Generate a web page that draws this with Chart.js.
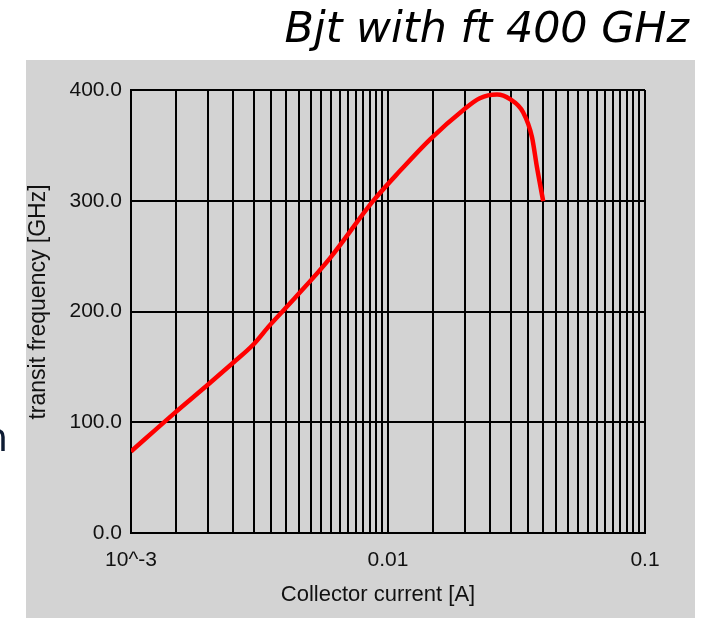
<!DOCTYPE html>
<html>
<head>
<meta charset="utf-8">
<script src="https://cdn.jsdelivr.net/npm/chart.js@4.4.1/dist/chart.umd.min.js"></script>
<style>
  html, body { margin: 0; padding: 0; background: #ffffff; }
  #wrap { width: 711px; height: 618px; position: relative; }
</style>
</head>
<body>
<div id="wrap"><canvas id="ft"></canvas></div>
<script>
// collector current [A] vs transit frequency [GHz]
var current = [0.00100, 0.00148, 0.00198, 0.00249, 0.00298, 0.00347, 0.00427, 0.00595, 0.00874,
               0.01114, 0.01458, 0.01959, 0.02277, 0.02656, 0.02984, 0.03354, 0.03634, 0.03798, 0.04017];
var ft = [73.6, 108.5, 133.4, 153.5, 169.7, 187.7, 210.3, 248.2, 299.6,
          327.0, 355.5, 381.8, 392.6, 395.9, 391.7, 379.9, 357.4, 330.3, 299.6];

var xLabelValues = [0.001, 0.01, 0.1];
var xLabelText = ['10^-3', '0.01', '0.1'];
var xMinorSteps = [1, 1.5, 2, 2.5, 3, 3.5, 4, 4.5, 5, 5.5, 6, 6.5, 7, 7.5, 8, 8.5, 9, 9.5];
var yTicks = [0, 100, 200, 300, 400];

var chartTitle = 'Bjt with ft 400 GHz';
var xTitle = 'Collector current [A]';
var yTitle = 'transit frequency [GHz]';

var tickFont = { family: '"Liberation Sans", Arial, sans-serif', size: 21 };
var axisTitleFont = '22px "Liberation Sans", Arial, sans-serif';
var yTitleFont = '23px "Liberation Sans", Arial, sans-serif';

// gridline positions: every half step inside each decade
var xGrid = [];
[0.001, 0.01].forEach(function(d) {
  xMinorSteps.forEach(function(s) { xGrid.push(d * s); });
});
xGrid.push(0.1);

var backdrop = {
  id: 'backdrop',
  beforeDraw: function(chart) {
    var ctx = chart.ctx;
    ctx.save();
    ctx.fillStyle = '#ffffff';
    ctx.fillRect(0, 0, chart.width, chart.height);
    ctx.fillStyle = '#d3d3d3';
    ctx.fillRect(26, 60, 669, 558);
    ctx.restore();
  },
  afterDraw: function(chart) {
    var ctx = chart.ctx;
    ctx.save();

    // heading, sized to span 405px
    ctx.fillStyle = '#000000';
    ctx.font = 'oblique 40px "DejaVu Sans", sans-serif';
    var w = ctx.measureText(chartTitle).width;
    var size = 40 * 405 / w;
    ctx.font = 'oblique ' + size.toFixed(1) + 'px "DejaVu Sans", sans-serif';
    ctx.textAlign = 'right';
    ctx.textBaseline = 'alphabetic';
    ctx.fillText(chartTitle, 689, 42);

    // axis titles
    ctx.fillStyle = '#111111';
    ctx.font = axisTitleFont;
    ctx.textAlign = 'center';
    ctx.textBaseline = 'middle';
    ctx.fillText(xTitle, 378, 595);
    ctx.font = yTitleFont;
    ctx.translate(39, 302);
    ctx.rotate(-Math.PI / 2);
    ctx.fillText(yTitle, 0, 0);
    ctx.setTransform(1, 0, 0, 1, 0, 0);

    // clipped slide text at the left edge
    ctx.fillStyle = '#0d1b33';
    ctx.font = '40px "Noto Sans", sans-serif';
    ctx.textAlign = 'right';
    ctx.textBaseline = 'alphabetic';
    ctx.fillText('n', 8, 451);
    ctx.restore();
  }
};

var ctx = document.getElementById('ft').getContext('2d');
var chart = new Chart(ctx, {
  type: 'line',
  data: {
    datasets: [{
      data: current.map(function(x, i) { return { x: x, y: ft[i] }; }),
      borderColor: '#ff0000',
      borderWidth: 4.5,
      pointRadius: 0,
      cubicInterpolationMode: 'monotone',
      fill: false
    }]
  },
  options: {
    responsive: true,
    maintainAspectRatio: false,
    animation: false,
    devicePixelRatio: 1,
    layout: { padding: { left: 26, top: 90, right: 66, bottom: 0 } },
    plugins: { legend: { display: false }, tooltip: { enabled: false } },
    scales: {
      x: {
        type: 'logarithmic',
        min: 0.001,
        max: 0.1,
        afterBuildTicks: function(scale) {
          scale.ticks = xGrid.map(function(v) { return { value: v }; });
        },
        afterFit: function(scale) { scale.height = 85; },
        grid: { color: '#000000', lineWidth: 2, drawTicks: false },
        border: { color: '#000000', width: 2 },
        ticks: {
          autoSkip: false,
          maxRotation: 0,
          padding: 15,
          color: '#111111',
          font: tickFont,
          callback: function(v) {
            for (var i = 0; i < xLabelValues.length; i++) {
              if (Math.abs(v / xLabelValues[i] - 1) < 1e-6) return xLabelText[i];
            }
            return '';
          }
        }
      },
      y: {
        min: 0,
        max: 400,
        afterBuildTicks: function(scale) {
          scale.ticks = yTicks.map(function(v) { return { value: v }; });
        },
        afterFit: function(scale) { scale.width = 105; },
        grid: { color: '#000000', lineWidth: 2, drawTicks: false },
        border: { color: '#000000', width: 2 },
        ticks: {
          padding: 9,
          color: '#111111',
          font: tickFont,
          callback: function(v) { return v.toFixed(1); }
        }
      }
    }
  },
  plugins: [backdrop]
});
</script>
</body>
</html>
